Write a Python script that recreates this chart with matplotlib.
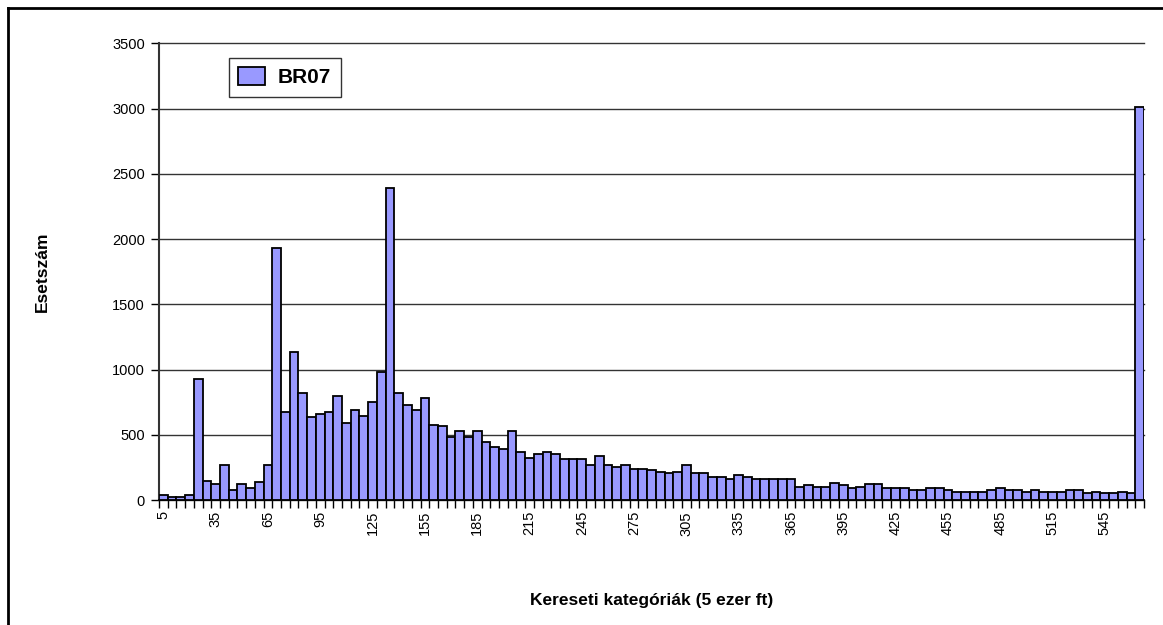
import matplotlib
matplotlib.use("Agg")
import matplotlib.pyplot as plt
from matplotlib.lines import Line2D
from matplotlib.patches import Patch
import numpy as np

plt.rcParams['font.family'] = ['Liberation Sans', 'DejaVu Sans']

categories = list(range(5, 566, 5))
counts = [38, 25, 25, 38, 930, 148, 120, 267, 76, 120,
          94, 135, 267, 1930, 674, 1132, 822, 634, 662, 674,
          794, 593, 687, 644, 753, 980, 2390, 822, 725, 687,
          781, 578, 565, 486, 527, 486, 527, 443, 405, 391,
          531, 365, 324, 352, 365, 352, 311, 311, 311, 267,
          337, 267, 254, 267, 241, 241, 228, 215, 204, 214,
          271, 206, 206, 175, 175, 160, 188, 175, 160, 160,
          160, 160, 160, 103, 118, 103, 103, 134, 116, 90,
          103, 121, 121, 90, 90, 90, 77, 77, 90, 90,
          77, 64, 64, 64, 64, 77, 90, 77, 77, 64,
          77, 64, 64, 64, 77, 77, 52, 64, 52, 52,
          64, 52, 3010]
tick_labels = ["5", "35", "65", "95", "125", "155", "185", "215", "245", "275",
               "305", "335", "365", "395", "425", "455", "485", "515", "545"]
y_ticks = [0, 500, 1000, 1500, 2000, 2500, 3000, 3500]
series_name = "BR07"

fig = plt.figure(figsize=(11.63, 6.25), dpi=100)
ax = fig.add_axes([159/1163, 1-500/625, (1144-159)/1163, (500-43.5)/625])

n = len(counts)
x = np.arange(n)
ax.bar(x, counts, width=1.0, color='#9999FF', edgecolor='black', linewidth=1.3, zorder=3)

ax.set_xlim(-0.5, n-0.5)
ax.set_ylim(0, 3500)
ax.set_yticks(y_ticks)
ax.set_yticklabels([str(v) for v in y_ticks], fontsize=10.5)
ax.yaxis.grid(True, color='#333333', linewidth=1.0, zorder=0)
for gl in ax.get_ygridlines():
    gl.set_clip_on(False)
ax.set_axisbelow(True)

label_pos = [categories.index(int(t)) for t in tick_labels]
ax.set_xticks(label_pos)
ax.set_xticklabels(tick_labels, rotation=90, fontsize=10.5)
ax.set_xticks(np.arange(n+1) - 0.5, minor=True)
ax.tick_params(axis='x', which='major', length=0, pad=8)
ax.tick_params(axis='x', which='minor', length=6, width=1, direction='out')
ax.tick_params(axis='y', length=6, width=1, direction='out', pad=4)

for s in ['top', 'right']:
    ax.spines[s].set_visible(False)
ax.spines['left'].set_linewidth(1.5)
ax.spines['left'].set_color('#333333')
ax.spines['bottom'].set_linewidth(1.3)

ax.set_ylabel("Esetszám", fontsize=12.5, fontweight='bold')
ax.set_xlabel("Kereseti kategóriák (5 ezer ft)", fontsize=12.5, fontweight='bold', labelpad=41)
ax.yaxis.set_label_coords(-0.1107, 0.5)

handle = Patch(facecolor='#9999FF', edgecolor='black', linewidth=1.3)
leg = ax.legend([handle], [series_name], loc='upper left', bbox_to_anchor=(0.071, 0.968),
                frameon=True, fancybox=False, edgecolor='black',
                prop={'weight': 'bold', 'size': 15}, borderpad=0.45, handlelength=1.3,
                handleheight=0.9, handletextpad=0.6, borderaxespad=0)
leg.get_frame().set_linewidth(1.0)

# outer frame (top and left visible in reference)
fig.add_artist(Line2D([8/1163, 1.0], [1-8/625, 1-8/625], transform=fig.transFigure, color='black', linewidth=2))
fig.add_artist(Line2D([8/1163, 8/1163], [0, 1-8/625], transform=fig.transFigure, color='black', linewidth=2))

fig.savefig("out.png", dpi=100)
